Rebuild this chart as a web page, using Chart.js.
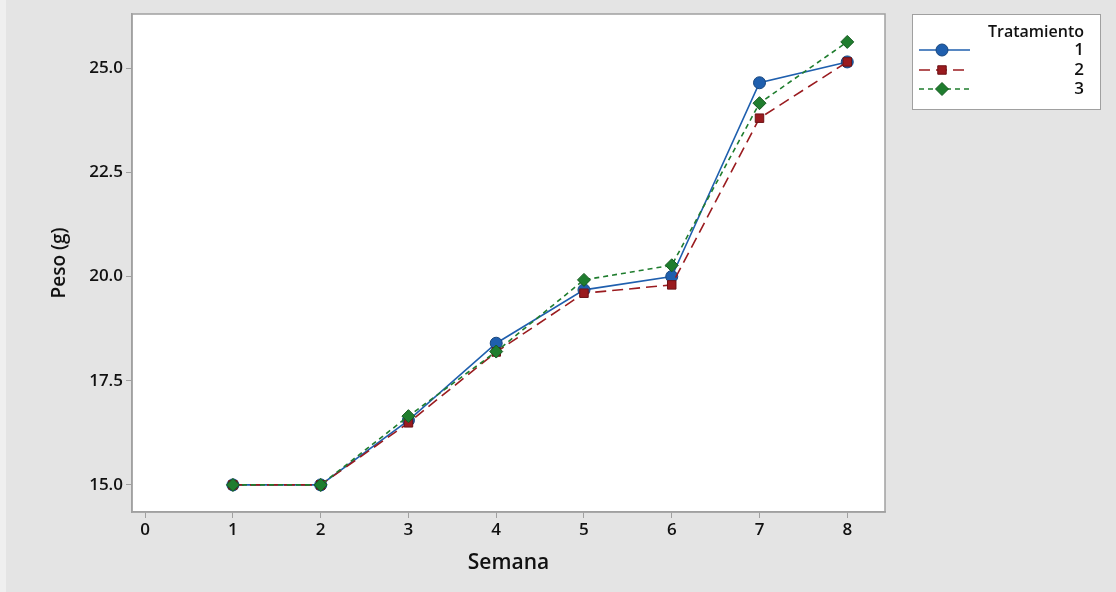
<!DOCTYPE html>
<html>
<head>
<meta charset="utf-8">
<script src="https://cdn.jsdelivr.net/npm/chart.js@4.4.1/dist/chart.umd.min.js"></script>
<style>
  html, body { margin: 0; padding: 0; background: #e4e4e4; }
  #wrap { width: 1116px; height: 592px; }
</style>
</head>
<body>
<div id="wrap"><canvas id="peso_chart" width="1116" height="592"></canvas></div>
<script>
// datos
var semanas = [1, 2, 3, 4, 5, 6, 7, 8];
var trat1 = [15.0, 15.0, 16.55, 18.4, 19.68, 20.0, 24.65, 25.15];
var trat2 = [15.0, 15.0, 16.49, 18.19, 19.6, 19.8, 23.8, 25.15];
var trat3 = [15.0, 15.0, 16.65, 18.2, 19.92, 20.27, 24.16, 25.63];
var nombres = ['1', '2', '3'];
var xTicks = [0, 1, 2, 3, 4, 5, 6, 7, 8];
var yTicks = [15.0, 17.5, 20.0, 22.5, 25.0];

var FONT = "'Open Sans', 'Noto Sans', sans-serif";

function to_points(vals){
	var pts = [];
	for(var i=0; i<semanas.length; i++){
		pts.push({x: semanas[i], y: vals[i]});
	}
	return pts;
}

function make_dataset(label, vals, color, border, style, dash, order){
	var ds = {};
	ds.label = label;
	ds.data = to_points(vals);
	ds.borderColor = color;
	ds.backgroundColor = color;
	ds.borderWidth = 1.6;
	ds.borderDash = dash;
	ds.pointStyle = style;
	ds.pointRadius = style == 'rectRot' ? 6.5 : 6;
	ds.pointBackgroundColor = color;
	ds.pointBorderColor = border;
	ds.pointBorderWidth = 1;
	ds.tension = 0;
	ds.order = order;
	return ds;
}

// fondo gris, marco del area y leyenda
var deco = {
	id: 'deco',
	beforeDraw: function(chart){
		var c = chart.ctx;
		c.save();
		c.fillStyle = '#e4e4e4';
		c.fillRect(0, 0, chart.width, chart.height);
		c.fillStyle = '#efefef';
		c.fillRect(0, 0, 6, chart.height);
		var a = chart.chartArea;
		c.fillStyle = '#ffffff';
		c.fillRect(a.left, a.top, a.right - a.left, a.bottom - a.top);
		c.restore();
	},
	afterDraw: function(chart){
		var c = chart.ctx;
		var a = chart.chartArea;
		c.save();
		c.strokeStyle = '#a0a0a0';
		c.lineWidth = 1.5;
		c.strokeRect(a.left, a.top, a.right - a.left, a.bottom - a.top);

		// leyenda
		var lx = 912, ly = 14, lw = 188, lh = 95;
		c.fillStyle = '#ffffff';
		c.fillRect(lx, ly, lw, lh);
		c.strokeStyle = '#a0a0a0';
		c.lineWidth = 1;
		c.strokeRect(lx + 0.5, ly + 0.5, lw, lh);
		c.fillStyle = '#111';
		c.font = '600 16px ' + FONT;
		c.textAlign = 'right';
		c.textBaseline = 'middle';
		c.fillText('Tratamiento', 1084, 32);
		var rows = [50, 70, 89];
		var dsets = chart.data.datasets;
		for(var i=0; i<dsets.length; i++){
			var d = dsets[i];
			var y = rows[i];
			c.strokeStyle = d.borderColor;
			c.lineWidth = d.borderWidth;
			c.setLineDash(d.borderDash);
			c.beginPath();
			c.moveTo(919, y);
			c.lineTo(970, y);
			c.stroke();
			c.setLineDash([]);
			c.fillStyle = d.pointBackgroundColor;
			c.strokeStyle = d.pointBorderColor;
			c.lineWidth = 1;
			Chart.helpers.drawPoint(c, {
				pointStyle: d.pointStyle, radius: d.pointRadius, rotation: 0,
				borderWidth: 1
			}, 942, y);
			c.fillStyle = '#111';
			c.font = '600 17px ' + FONT;
			c.fillText(d.label, 1084, y);
		}
		c.restore();
	}
};

function draw_figure(){
	var ctx = document.getElementById('peso_chart').getContext('2d');

	var data = {};
	data.datasets = [];
	data.datasets.push(make_dataset(nombres[0], trat1, '#1f5fae', '#17467f', 'circle', [], 2));
	data.datasets.push(make_dataset(nombres[1], trat2, '#9a1b1f', '#6d1216', 'rect', [11, 6], 1));
	data.datasets.push(make_dataset(nombres[2], trat3, '#1f7d2e', '#155a20', 'rectRot', [5, 4], 0));

	var tickFont = {family: FONT, size: 17, weight: '600'};
	var titleFont = {family: FONT, size: 21, weight: '600'};
	var yTitleFont = {family: FONT, size: 19, weight: '600'};

	var opts = {
		responsive: false,
		animation: false,
		layout: {padding: {left: 0, top: 14, right: 231, bottom: 0}},
		plugins: {legend: {display: false}, tooltip: {enabled: false}},
		scales: {
			x: {
				type: 'linear',
				min: -0.15,
				max: 8.43,
				afterFit: function(s){ s.height = 80; },
				afterBuildTicks: function(s){ s.ticks = xTicks.map(function(v){ return {value: v}; }); },
				grid: {drawOnChartArea: false, tickLength: 6, color: '#a0a0a0'},
				border: {color: '#a0a0a0', width: 1.5},
				ticks: {font: tickFont, color: '#111', padding: 2, maxRotation: 0},
				title: {display: true, text: 'Semana', font: titleFont, color: '#111', padding: {top: 0, bottom: 16}}
			},
			y: {
				type: 'linear',
				min: 14.35,
				max: 26.3,
				afterFit: function(s){ s.width = 132; },
				afterBuildTicks: function(s){ s.ticks = yTicks.map(function(v){ return {value: v}; }); },
				grid: {drawOnChartArea: false, tickLength: 6, color: '#a0a0a0'},
				border: {color: '#a0a0a0', width: 1.5},
				ticks: {font: tickFont, color: '#111', padding: 3,
					callback: function(v){ return v.toFixed(1); }},
				title: {display: true, text: 'Peso (g)', font: yTitleFont, color: '#111', padding: {top: 48, bottom: 0}}
			}
		}
	};

	var params = {};
	params.type = 'line';
	params.data = data;
	params.options = opts;
	params.plugins = [deco];
	new Chart(ctx, params);
}

draw_figure();
</script>
</body>
</html>
